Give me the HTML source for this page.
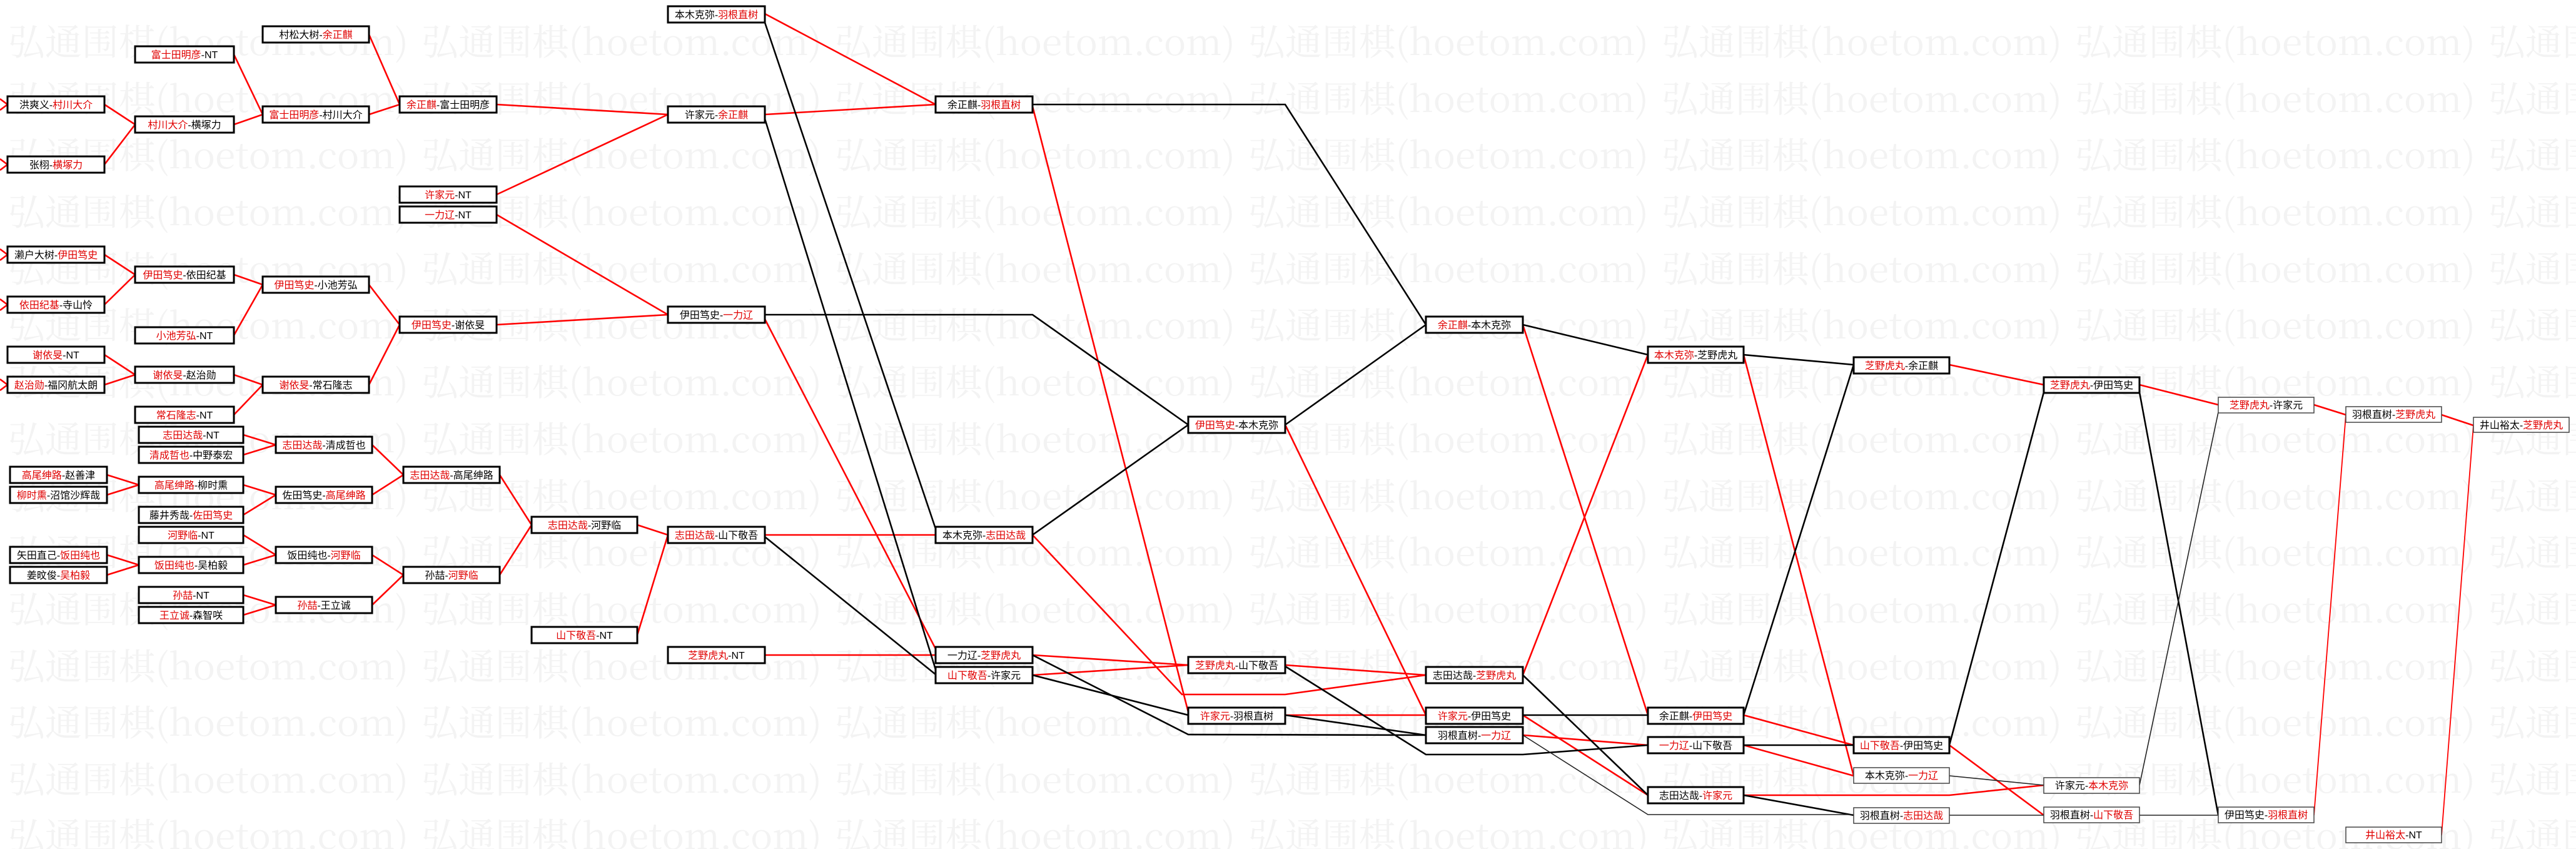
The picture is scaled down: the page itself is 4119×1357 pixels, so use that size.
<!DOCTYPE html>
<html><head><meta charset="utf-8"><style>
html,body{margin:0;padding:0;background:#fff;}
svg{display:block;}
.wm{font-family:"Noto Serif CJK SC","Liberation Serif",serif;font-size:58px;fill:#f3f3f3;}
.b{fill:#fff;stroke:#000;stroke-width:3;}
.bt{fill:#fff;stroke:#444;stroke-width:1.5;}
.t{font-family:"Liberation Sans","Noto Sans CJK SC",sans-serif;font-size:16px;fill:#000;text-anchor:middle;}
.r{fill:#e00000;}
.lr{stroke:#f00;stroke-width:2.6;fill:none;}
.lb{stroke:#000;stroke-width:2.6;fill:none;}
.lbt{stroke:#222;stroke-width:1.6;fill:none;}
.lrt{stroke:#f00;stroke-width:1.8;fill:none;}
</style></head><body>
<svg width="4119" height="1357" viewBox="0 0 4119 1357" xmlns="http://www.w3.org/2000/svg">
<g class="wm">
<text x="13" y="88" textLength="640" lengthAdjust="spacingAndGlyphs">弘通围棋(hoetom.com)</text><text x="674" y="88" textLength="640" lengthAdjust="spacingAndGlyphs">弘通围棋(hoetom.com)</text><text x="1335" y="88" textLength="640" lengthAdjust="spacingAndGlyphs">弘通围棋(hoetom.com)</text><text x="1996" y="88" textLength="640" lengthAdjust="spacingAndGlyphs">弘通围棋(hoetom.com)</text><text x="2657" y="88" textLength="640" lengthAdjust="spacingAndGlyphs">弘通围棋(hoetom.com)</text><text x="3318" y="88" textLength="640" lengthAdjust="spacingAndGlyphs">弘通围棋(hoetom.com)</text><text x="3979" y="88" textLength="640" lengthAdjust="spacingAndGlyphs">弘通围棋(hoetom.com)</text>
<text x="13" y="179" textLength="640" lengthAdjust="spacingAndGlyphs">弘通围棋(hoetom.com)</text><text x="674" y="179" textLength="640" lengthAdjust="spacingAndGlyphs">弘通围棋(hoetom.com)</text><text x="1335" y="179" textLength="640" lengthAdjust="spacingAndGlyphs">弘通围棋(hoetom.com)</text><text x="1996" y="179" textLength="640" lengthAdjust="spacingAndGlyphs">弘通围棋(hoetom.com)</text><text x="2657" y="179" textLength="640" lengthAdjust="spacingAndGlyphs">弘通围棋(hoetom.com)</text><text x="3318" y="179" textLength="640" lengthAdjust="spacingAndGlyphs">弘通围棋(hoetom.com)</text><text x="3979" y="179" textLength="640" lengthAdjust="spacingAndGlyphs">弘通围棋(hoetom.com)</text>
<text x="13" y="269" textLength="640" lengthAdjust="spacingAndGlyphs">弘通围棋(hoetom.com)</text><text x="674" y="269" textLength="640" lengthAdjust="spacingAndGlyphs">弘通围棋(hoetom.com)</text><text x="1335" y="269" textLength="640" lengthAdjust="spacingAndGlyphs">弘通围棋(hoetom.com)</text><text x="1996" y="269" textLength="640" lengthAdjust="spacingAndGlyphs">弘通围棋(hoetom.com)</text><text x="2657" y="269" textLength="640" lengthAdjust="spacingAndGlyphs">弘通围棋(hoetom.com)</text><text x="3318" y="269" textLength="640" lengthAdjust="spacingAndGlyphs">弘通围棋(hoetom.com)</text><text x="3979" y="269" textLength="640" lengthAdjust="spacingAndGlyphs">弘通围棋(hoetom.com)</text>
<text x="13" y="360" textLength="640" lengthAdjust="spacingAndGlyphs">弘通围棋(hoetom.com)</text><text x="674" y="360" textLength="640" lengthAdjust="spacingAndGlyphs">弘通围棋(hoetom.com)</text><text x="1335" y="360" textLength="640" lengthAdjust="spacingAndGlyphs">弘通围棋(hoetom.com)</text><text x="1996" y="360" textLength="640" lengthAdjust="spacingAndGlyphs">弘通围棋(hoetom.com)</text><text x="2657" y="360" textLength="640" lengthAdjust="spacingAndGlyphs">弘通围棋(hoetom.com)</text><text x="3318" y="360" textLength="640" lengthAdjust="spacingAndGlyphs">弘通围棋(hoetom.com)</text><text x="3979" y="360" textLength="640" lengthAdjust="spacingAndGlyphs">弘通围棋(hoetom.com)</text>
<text x="13" y="451" textLength="640" lengthAdjust="spacingAndGlyphs">弘通围棋(hoetom.com)</text><text x="674" y="451" textLength="640" lengthAdjust="spacingAndGlyphs">弘通围棋(hoetom.com)</text><text x="1335" y="451" textLength="640" lengthAdjust="spacingAndGlyphs">弘通围棋(hoetom.com)</text><text x="1996" y="451" textLength="640" lengthAdjust="spacingAndGlyphs">弘通围棋(hoetom.com)</text><text x="2657" y="451" textLength="640" lengthAdjust="spacingAndGlyphs">弘通围棋(hoetom.com)</text><text x="3318" y="451" textLength="640" lengthAdjust="spacingAndGlyphs">弘通围棋(hoetom.com)</text><text x="3979" y="451" textLength="640" lengthAdjust="spacingAndGlyphs">弘通围棋(hoetom.com)</text>
<text x="13" y="541" textLength="640" lengthAdjust="spacingAndGlyphs">弘通围棋(hoetom.com)</text><text x="674" y="541" textLength="640" lengthAdjust="spacingAndGlyphs">弘通围棋(hoetom.com)</text><text x="1335" y="541" textLength="640" lengthAdjust="spacingAndGlyphs">弘通围棋(hoetom.com)</text><text x="1996" y="541" textLength="640" lengthAdjust="spacingAndGlyphs">弘通围棋(hoetom.com)</text><text x="2657" y="541" textLength="640" lengthAdjust="spacingAndGlyphs">弘通围棋(hoetom.com)</text><text x="3318" y="541" textLength="640" lengthAdjust="spacingAndGlyphs">弘通围棋(hoetom.com)</text><text x="3979" y="541" textLength="640" lengthAdjust="spacingAndGlyphs">弘通围棋(hoetom.com)</text>
<text x="13" y="632" textLength="640" lengthAdjust="spacingAndGlyphs">弘通围棋(hoetom.com)</text><text x="674" y="632" textLength="640" lengthAdjust="spacingAndGlyphs">弘通围棋(hoetom.com)</text><text x="1335" y="632" textLength="640" lengthAdjust="spacingAndGlyphs">弘通围棋(hoetom.com)</text><text x="1996" y="632" textLength="640" lengthAdjust="spacingAndGlyphs">弘通围棋(hoetom.com)</text><text x="2657" y="632" textLength="640" lengthAdjust="spacingAndGlyphs">弘通围棋(hoetom.com)</text><text x="3318" y="632" textLength="640" lengthAdjust="spacingAndGlyphs">弘通围棋(hoetom.com)</text><text x="3979" y="632" textLength="640" lengthAdjust="spacingAndGlyphs">弘通围棋(hoetom.com)</text>
<text x="13" y="723" textLength="640" lengthAdjust="spacingAndGlyphs">弘通围棋(hoetom.com)</text><text x="674" y="723" textLength="640" lengthAdjust="spacingAndGlyphs">弘通围棋(hoetom.com)</text><text x="1335" y="723" textLength="640" lengthAdjust="spacingAndGlyphs">弘通围棋(hoetom.com)</text><text x="1996" y="723" textLength="640" lengthAdjust="spacingAndGlyphs">弘通围棋(hoetom.com)</text><text x="2657" y="723" textLength="640" lengthAdjust="spacingAndGlyphs">弘通围棋(hoetom.com)</text><text x="3318" y="723" textLength="640" lengthAdjust="spacingAndGlyphs">弘通围棋(hoetom.com)</text><text x="3979" y="723" textLength="640" lengthAdjust="spacingAndGlyphs">弘通围棋(hoetom.com)</text>
<text x="13" y="814" textLength="640" lengthAdjust="spacingAndGlyphs">弘通围棋(hoetom.com)</text><text x="674" y="814" textLength="640" lengthAdjust="spacingAndGlyphs">弘通围棋(hoetom.com)</text><text x="1335" y="814" textLength="640" lengthAdjust="spacingAndGlyphs">弘通围棋(hoetom.com)</text><text x="1996" y="814" textLength="640" lengthAdjust="spacingAndGlyphs">弘通围棋(hoetom.com)</text><text x="2657" y="814" textLength="640" lengthAdjust="spacingAndGlyphs">弘通围棋(hoetom.com)</text><text x="3318" y="814" textLength="640" lengthAdjust="spacingAndGlyphs">弘通围棋(hoetom.com)</text><text x="3979" y="814" textLength="640" lengthAdjust="spacingAndGlyphs">弘通围棋(hoetom.com)</text>
<text x="13" y="904" textLength="640" lengthAdjust="spacingAndGlyphs">弘通围棋(hoetom.com)</text><text x="674" y="904" textLength="640" lengthAdjust="spacingAndGlyphs">弘通围棋(hoetom.com)</text><text x="1335" y="904" textLength="640" lengthAdjust="spacingAndGlyphs">弘通围棋(hoetom.com)</text><text x="1996" y="904" textLength="640" lengthAdjust="spacingAndGlyphs">弘通围棋(hoetom.com)</text><text x="2657" y="904" textLength="640" lengthAdjust="spacingAndGlyphs">弘通围棋(hoetom.com)</text><text x="3318" y="904" textLength="640" lengthAdjust="spacingAndGlyphs">弘通围棋(hoetom.com)</text><text x="3979" y="904" textLength="640" lengthAdjust="spacingAndGlyphs">弘通围棋(hoetom.com)</text>
<text x="13" y="995" textLength="640" lengthAdjust="spacingAndGlyphs">弘通围棋(hoetom.com)</text><text x="674" y="995" textLength="640" lengthAdjust="spacingAndGlyphs">弘通围棋(hoetom.com)</text><text x="1335" y="995" textLength="640" lengthAdjust="spacingAndGlyphs">弘通围棋(hoetom.com)</text><text x="1996" y="995" textLength="640" lengthAdjust="spacingAndGlyphs">弘通围棋(hoetom.com)</text><text x="2657" y="995" textLength="640" lengthAdjust="spacingAndGlyphs">弘通围棋(hoetom.com)</text><text x="3318" y="995" textLength="640" lengthAdjust="spacingAndGlyphs">弘通围棋(hoetom.com)</text><text x="3979" y="995" textLength="640" lengthAdjust="spacingAndGlyphs">弘通围棋(hoetom.com)</text>
<text x="13" y="1086" textLength="640" lengthAdjust="spacingAndGlyphs">弘通围棋(hoetom.com)</text><text x="674" y="1086" textLength="640" lengthAdjust="spacingAndGlyphs">弘通围棋(hoetom.com)</text><text x="1335" y="1086" textLength="640" lengthAdjust="spacingAndGlyphs">弘通围棋(hoetom.com)</text><text x="1996" y="1086" textLength="640" lengthAdjust="spacingAndGlyphs">弘通围棋(hoetom.com)</text><text x="2657" y="1086" textLength="640" lengthAdjust="spacingAndGlyphs">弘通围棋(hoetom.com)</text><text x="3318" y="1086" textLength="640" lengthAdjust="spacingAndGlyphs">弘通围棋(hoetom.com)</text><text x="3979" y="1086" textLength="640" lengthAdjust="spacingAndGlyphs">弘通围棋(hoetom.com)</text>
<text x="13" y="1176" textLength="640" lengthAdjust="spacingAndGlyphs">弘通围棋(hoetom.com)</text><text x="674" y="1176" textLength="640" lengthAdjust="spacingAndGlyphs">弘通围棋(hoetom.com)</text><text x="1335" y="1176" textLength="640" lengthAdjust="spacingAndGlyphs">弘通围棋(hoetom.com)</text><text x="1996" y="1176" textLength="640" lengthAdjust="spacingAndGlyphs">弘通围棋(hoetom.com)</text><text x="2657" y="1176" textLength="640" lengthAdjust="spacingAndGlyphs">弘通围棋(hoetom.com)</text><text x="3318" y="1176" textLength="640" lengthAdjust="spacingAndGlyphs">弘通围棋(hoetom.com)</text><text x="3979" y="1176" textLength="640" lengthAdjust="spacingAndGlyphs">弘通围棋(hoetom.com)</text>
<text x="13" y="1267" textLength="640" lengthAdjust="spacingAndGlyphs">弘通围棋(hoetom.com)</text><text x="674" y="1267" textLength="640" lengthAdjust="spacingAndGlyphs">弘通围棋(hoetom.com)</text><text x="1335" y="1267" textLength="640" lengthAdjust="spacingAndGlyphs">弘通围棋(hoetom.com)</text><text x="1996" y="1267" textLength="640" lengthAdjust="spacingAndGlyphs">弘通围棋(hoetom.com)</text><text x="2657" y="1267" textLength="640" lengthAdjust="spacingAndGlyphs">弘通围棋(hoetom.com)</text><text x="3318" y="1267" textLength="640" lengthAdjust="spacingAndGlyphs">弘通围棋(hoetom.com)</text><text x="3979" y="1267" textLength="640" lengthAdjust="spacingAndGlyphs">弘通围棋(hoetom.com)</text>
<text x="13" y="1357" textLength="640" lengthAdjust="spacingAndGlyphs">弘通围棋(hoetom.com)</text><text x="674" y="1357" textLength="640" lengthAdjust="spacingAndGlyphs">弘通围棋(hoetom.com)</text><text x="1335" y="1357" textLength="640" lengthAdjust="spacingAndGlyphs">弘通围棋(hoetom.com)</text><text x="1996" y="1357" textLength="640" lengthAdjust="spacingAndGlyphs">弘通围棋(hoetom.com)</text><text x="2657" y="1357" textLength="640" lengthAdjust="spacingAndGlyphs">弘通围棋(hoetom.com)</text><text x="3318" y="1357" textLength="640" lengthAdjust="spacingAndGlyphs">弘通围棋(hoetom.com)</text><text x="3979" y="1357" textLength="640" lengthAdjust="spacingAndGlyphs">弘通围棋(hoetom.com)</text>
</g>

<g class="lr">
<polyline points="0,158 12,167 0,176"/><polyline points="0,254 12,263 0,272"/><polyline points="0,398 12,407 0,416"/><polyline points="0,478 12,487 0,496"/><polyline points="0,606 12,615 0,624"/>
<line x1="167" y1="167" x2="216" y2="199"/><line x1="167" y1="263" x2="216" y2="199"/>
<line x1="374" y1="87" x2="420" y2="183"/><line x1="374" y1="199" x2="420" y2="183"/>
<line x1="590" y1="55" x2="639" y2="167"/><line x1="590" y1="183" x2="639" y2="167"/>
<line x1="794" y1="167" x2="1068" y2="183"/><line x1="794" y1="311" x2="1068" y2="183"/>
<line x1="794" y1="343" x2="1068" y2="503"/><line x1="794" y1="519" x2="1068" y2="503"/>
<line x1="167" y1="407" x2="216" y2="439"/><line x1="167" y1="487" x2="216" y2="439"/>
<line x1="374" y1="439" x2="420" y2="455"/><line x1="374" y1="536" x2="420" y2="455"/>
<line x1="590" y1="455" x2="639" y2="519"/><line x1="590" y1="615" x2="639" y2="519"/>
<line x1="167" y1="567" x2="216" y2="599"/><line x1="167" y1="615" x2="216" y2="599"/>
<line x1="374" y1="599" x2="420" y2="615"/><line x1="374" y1="663" x2="420" y2="615"/>
<line x1="389" y1="695" x2="441" y2="711"/><line x1="389" y1="727" x2="441" y2="711"/>
<line x1="171" y1="759" x2="222" y2="775"/><line x1="171" y1="791" x2="222" y2="775"/>
<line x1="389" y1="775" x2="441" y2="791"/><line x1="389" y1="823" x2="441" y2="791"/>
<line x1="595" y1="711" x2="645" y2="759"/><line x1="595" y1="791" x2="645" y2="759"/>
<line x1="799" y1="759" x2="850" y2="839"/><line x1="799" y1="919" x2="850" y2="839"/>
<line x1="389" y1="855" x2="441" y2="887"/><line x1="389" y1="903" x2="441" y2="887"/>
<line x1="171" y1="887" x2="222" y2="903"/><line x1="171" y1="919" x2="222" y2="903"/>
<line x1="595" y1="887" x2="645" y2="919"/><line x1="595" y1="967" x2="645" y2="919"/>
<line x1="389" y1="951" x2="441" y2="967"/><line x1="389" y1="983" x2="441" y2="967"/>
<line x1="1019" y1="839" x2="1068" y2="855"/><line x1="1019" y1="1015" x2="1068" y2="855"/>
<line x1="1223" y1="22" x2="1496" y2="167"/><line x1="1223" y1="183" x2="1496" y2="167"/>
<line x1="1223" y1="510" x2="1496" y2="1037"/>
<line x1="1651" y1="170" x2="1900" y2="1138"/>
<line x1="1223" y1="855" x2="1496" y2="855"/>
<line x1="1223" y1="1047" x2="1496" y2="1047"/>
<line x1="1651" y1="1047" x2="1900" y2="1063"/><line x1="1651" y1="1079" x2="1900" y2="1063"/>
<polyline points="1651,855 1890,1110 2055,1110 2280,1079"/>
<line x1="2055" y1="679" x2="2280" y2="1143"/>
<line x1="2055" y1="1063" x2="2280" y2="1079"/>
<line x1="2055" y1="1143" x2="2280" y2="1143"/>
<line x1="2435" y1="519" x2="2635" y2="1143"/>
<line x1="2435" y1="1079" x2="2635" y2="567"/>
<line x1="2435" y1="1143" x2="2635" y2="1271"/>
<line x1="2435" y1="1175" x2="2635" y2="1191"/>
<line x1="2788" y1="567" x2="2964" y2="1240"/>
<line x1="2788" y1="1143" x2="2964" y2="1191"/>
<line x1="2788" y1="1191" x2="2964" y2="1240"/>
<polyline points="2788,1271 3117,1271 3268,1255"/>
<line x1="3117" y1="583" x2="3268" y2="615"/>
<line x1="3117" y1="1191" x2="3268" y2="1303"/>
<line x1="3421" y1="615" x2="3547" y2="647"/>
<line x1="3700" y1="647" x2="3751" y2="663"/>
<line x1="3904" y1="663" x2="3955" y2="680"/>
</g>
<g class="lrt">
<line x1="3700" y1="1303" x2="3751" y2="663"/>
<line x1="3904" y1="1335" x2="3955" y2="680"/>
</g>
<g class="lb">
<polyline points="1651,167 2055,167 2280,519"/>
<line x1="1223" y1="36" x2="1496" y2="845"/>
<line x1="1223" y1="190" x2="1496" y2="1070"/>
<polyline points="1223,503 1651,503 1900,679"/>
<line x1="1223" y1="858" x2="1496" y2="1078"/>
<polyline points="1651,1047 1900,1174 2280,1175"/>
<line x1="1651" y1="1079" x2="1900" y2="1143"/>
<line x1="1651" y1="855" x2="1900" y2="679"/>
<line x1="2055" y1="679" x2="2280" y2="519"/>
<polyline points="2055,1065 2280,1206 2435,1206 2635,1191"/>
<line x1="2055" y1="1143" x2="2280" y2="1175"/>
<line x1="2435" y1="519" x2="2635" y2="567"/>
<line x1="2435" y1="1079" x2="2635" y2="1271"/>
<line x1="2435" y1="1143" x2="2635" y2="1143"/>
<line x1="2788" y1="567" x2="2964" y2="583"/>
<line x1="2788" y1="1143" x2="2964" y2="583"/>
<line x1="2788" y1="1191" x2="2964" y2="1191"/>
<line x1="2788" y1="1271" x2="2964" y2="1303"/>
<line x1="3117" y1="1191" x2="3268" y2="627"/>
<line x1="3421" y1="627" x2="3547" y2="1303"/>
</g>
<g class="lbt">
<polyline points="2435,1175 2635,1302 2964,1302"/>
<line x1="3117" y1="1240" x2="3268" y2="1255"/>
<line x1="3117" y1="1303" x2="3268" y2="1303"/>
<line x1="3421" y1="1255" x2="3547" y2="659"/>
<line x1="3421" y1="1303" x2="3547" y2="1303"/>
</g>

<g>
<rect class="b" x="12" y="154" width="155" height="26"/><text class="t" x="89.5" y="173">洪爽义-<tspan class="r">村川大介</tspan></text>
<rect class="b" x="12" y="250" width="155" height="26"/><text class="t" x="89.5" y="269">张栩-<tspan class="r">横塚力</tspan></text>
<rect class="b" x="12" y="394" width="155" height="26"/><text class="t" x="89.5" y="413">濑户大树-<tspan class="r">伊田笃史</tspan></text>
<rect class="b" x="12" y="474" width="155" height="26"/><text class="t" x="89.5" y="493"><tspan class="r">依田纪基</tspan>-寺山怜</text>
<rect class="b" x="12" y="554" width="155" height="26"/><text class="t" x="89.5" y="573"><tspan class="r">谢依旻</tspan>-NT</text>
<rect class="b" x="12" y="602" width="155" height="26"/><text class="t" x="89.5" y="621"><tspan class="r">赵治勋</tspan>-福冈航太朗</text>

<rect class="b" x="16" y="746" width="155" height="26"/><text class="t" x="93.5" y="765"><tspan class="r">高尾绅路</tspan>-赵善津</text>
<rect class="b" x="16" y="778" width="155" height="26"/><text class="t" x="93.5" y="797"><tspan class="r">柳时熏</tspan>-沼馆沙辉哉</text>
<rect class="b" x="16" y="874" width="155" height="26"/><text class="t" x="93.5" y="893">矢田直己-<tspan class="r">饭田纯也</tspan></text>
<rect class="b" x="16" y="906" width="155" height="26"/><text class="t" x="93.5" y="925">姜旼俊-<tspan class="r">吴柏毅</tspan></text>

<rect class="b" x="216" y="74" width="158" height="26"/><text class="t" x="295" y="93"><tspan class="r">富士田明彦</tspan>-NT</text>
<rect class="b" x="216" y="186" width="158" height="26"/><text class="t" x="295" y="205"><tspan class="r">村川大介</tspan>-横塚力</text>
<rect class="b" x="216" y="426" width="158" height="26"/><text class="t" x="295" y="445"><tspan class="r">伊田笃史</tspan>-依田纪基</text>
<rect class="b" x="216" y="523" width="158" height="26"/><text class="t" x="295" y="542"><tspan class="r">小池芳弘</tspan>-NT</text>
<rect class="b" x="216" y="586" width="158" height="26"/><text class="t" x="295" y="605"><tspan class="r">谢依旻</tspan>-赵治勋</text>
<rect class="b" x="216" y="650" width="158" height="26"/><text class="t" x="295" y="669"><tspan class="r">常石隆志</tspan>-NT</text>

<rect class="b" x="222" y="682" width="167" height="26"/><text class="t" x="305.5" y="701"><tspan class="r">志田达哉</tspan>-NT</text>
<rect class="b" x="222" y="714" width="167" height="26"/><text class="t" x="305.5" y="733"><tspan class="r">清成哲也</tspan>-中野泰宏</text>
<rect class="b" x="222" y="762" width="167" height="26"/><text class="t" x="305.5" y="781"><tspan class="r">高尾绅路</tspan>-柳时熏</text>
<rect class="b" x="222" y="810" width="167" height="26"/><text class="t" x="305.5" y="829">藤井秀哉-<tspan class="r">佐田笃史</tspan></text>
<rect class="b" x="222" y="842" width="167" height="26"/><text class="t" x="305.5" y="861"><tspan class="r">河野临</tspan>-NT</text>
<rect class="b" x="222" y="890" width="167" height="26"/><text class="t" x="305.5" y="909"><tspan class="r">饭田纯也</tspan>-吴柏毅</text>
<rect class="b" x="222" y="938" width="167" height="26"/><text class="t" x="305.5" y="957"><tspan class="r">孙喆</tspan>-NT</text>
<rect class="b" x="222" y="970" width="167" height="26"/><text class="t" x="305.5" y="989"><tspan class="r">王立诚</tspan>-森智咲</text>

<rect class="b" x="420" y="42" width="170" height="26"/><text class="t" x="505" y="61">村松大树-<tspan class="r">余正麒</tspan></text>
<rect class="b" x="420" y="170" width="170" height="26"/><text class="t" x="505" y="189"><tspan class="r">富士田明彦</tspan>-村川大介</text>
<rect class="b" x="420" y="442" width="170" height="26"/><text class="t" x="505" y="461"><tspan class="r">伊田笃史</tspan>-小池芳弘</text>
<rect class="b" x="420" y="602" width="170" height="26"/><text class="t" x="505" y="621"><tspan class="r">谢依旻</tspan>-常石隆志</text>

<rect class="b" x="441" y="698" width="154" height="26"/><text class="t" x="518" y="717"><tspan class="r">志田达哉</tspan>-清成哲也</text>
<rect class="b" x="441" y="778" width="154" height="26"/><text class="t" x="518" y="797">佐田笃史-<tspan class="r">高尾绅路</tspan></text>
<rect class="b" x="441" y="874" width="154" height="26"/><text class="t" x="518" y="893">饭田纯也-<tspan class="r">河野临</tspan></text>
<rect class="b" x="441" y="954" width="154" height="26"/><text class="t" x="518" y="973"><tspan class="r">孙喆</tspan>-王立诚</text>

<rect class="b" x="639" y="154" width="155" height="26"/><text class="t" x="716.5" y="173"><tspan class="r">余正麒</tspan>-富士田明彦</text>
<rect class="b" x="639" y="298" width="155" height="26"/><text class="t" x="716.5" y="317"><tspan class="r">许家元</tspan>-NT</text>
<rect class="b" x="639" y="330" width="155" height="26"/><text class="t" x="716.5" y="349"><tspan class="r">一力辽</tspan>-NT</text>
<rect class="b" x="639" y="506" width="155" height="26"/><text class="t" x="716.5" y="525"><tspan class="r">伊田笃史</tspan>-谢依旻</text>

<rect class="b" x="645" y="746" width="154" height="26"/><text class="t" x="722" y="765"><tspan class="r">志田达哉</tspan>-高尾绅路</text>
<rect class="b" x="645" y="906" width="154" height="26"/><text class="t" x="722" y="925">孙喆-<tspan class="r">河野临</tspan></text>

<rect class="b" x="850" y="826" width="169" height="26"/><text class="t" x="934.5" y="845"><tspan class="r">志田达哉</tspan>-河野临</text>
<rect class="b" x="850" y="1002" width="169" height="26"/><text class="t" x="934.5" y="1021"><tspan class="r">山下敬吾</tspan>-NT</text>

<rect class="b" x="1068" y="10" width="155" height="26"/><text class="t" x="1145.5" y="29">本木克弥-<tspan class="r">羽根直树</tspan></text>
<rect class="b" x="1068" y="170" width="155" height="26"/><text class="t" x="1145.5" y="189">许家元-<tspan class="r">余正麒</tspan></text>
<rect class="b" x="1068" y="490" width="155" height="26"/><text class="t" x="1145.5" y="509">伊田笃史-<tspan class="r">一力辽</tspan></text>
<rect class="b" x="1068" y="842" width="155" height="26"/><text class="t" x="1145.5" y="861"><tspan class="r">志田达哉</tspan>-山下敬吾</text>
<rect class="b" x="1068" y="1034" width="155" height="26"/><text class="t" x="1145.5" y="1053"><tspan class="r">芝野虎丸</tspan>-NT</text>

<rect class="b" x="1496" y="154" width="155" height="26"/><text class="t" x="1573.5" y="173">余正麒-<tspan class="r">羽根直树</tspan></text>
<rect class="b" x="1496" y="842" width="155" height="26"/><text class="t" x="1573.5" y="861">本木克弥-<tspan class="r">志田达哉</tspan></text>
<rect class="b" x="1496" y="1034" width="155" height="26"/><text class="t" x="1573.5" y="1053">一力辽-<tspan class="r">芝野虎丸</tspan></text>
<rect class="b" x="1496" y="1066" width="155" height="26"/><text class="t" x="1573.5" y="1085"><tspan class="r">山下敬吾</tspan>-许家元</text>

<rect class="b" x="1900" y="666" width="155" height="26"/><text class="t" x="1977.5" y="685"><tspan class="r">伊田笃史</tspan>-本木克弥</text>
<rect class="b" x="1900" y="1050" width="155" height="26"/><text class="t" x="1977.5" y="1069"><tspan class="r">芝野虎丸</tspan>-山下敬吾</text>
<rect class="b" x="1900" y="1131" width="155" height="26"/><text class="t" x="1977.5" y="1150"><tspan class="r">许家元</tspan>-羽根直树</text>

<rect class="b" x="2280" y="506" width="155" height="26"/><text class="t" x="2357.5" y="525"><tspan class="r">余正麒</tspan>-本木克弥</text>
<rect class="b" x="2280" y="1066" width="155" height="26"/><text class="t" x="2357.5" y="1085">志田达哉-<tspan class="r">芝野虎丸</tspan></text>
<rect class="b" x="2280" y="1131" width="155" height="26"/><text class="t" x="2357.5" y="1150"><tspan class="r">许家元</tspan>-伊田笃史</text>
<rect class="b" x="2280" y="1162" width="155" height="26"/><text class="t" x="2357.5" y="1181">羽根直树-<tspan class="r">一力辽</tspan></text>

<rect class="b" x="2635" y="554" width="153" height="26"/><text class="t" x="2711.5" y="573"><tspan class="r">本木克弥</tspan>-芝野虎丸</text>
<rect class="b" x="2635" y="1131" width="153" height="26"/><text class="t" x="2711.5" y="1150">余正麒-<tspan class="r">伊田笃史</tspan></text>
<rect class="b" x="2635" y="1178" width="153" height="26"/><text class="t" x="2711.5" y="1197"><tspan class="r">一力辽</tspan>-山下敬吾</text>
<rect class="b" x="2635" y="1258" width="153" height="26"/><text class="t" x="2711.5" y="1277">志田达哉-<tspan class="r">许家元</tspan></text>

<rect class="b" x="2964" y="571" width="153" height="26"/><text class="t" x="3040.5" y="590"><tspan class="r">芝野虎丸</tspan>-余正麒</text>
<rect class="b" x="2964" y="1178" width="153" height="26"/><text class="t" x="3040.5" y="1197"><tspan class="r">山下敬吾</tspan>-伊田笃史</text>
<rect class="bt" x="2964" y="1227" width="153" height="25"/><text class="t" x="3040.5" y="1245">本木克弥-<tspan class="r">一力辽</tspan></text>
<rect class="bt" x="2964" y="1291" width="153" height="25"/><text class="t" x="3040.5" y="1309">羽根直树-<tspan class="r">志田达哉</tspan></text>

<rect class="b" x="3268" y="603" width="153" height="25"/><text class="t" x="3344.5" y="621"><tspan class="r">芝野虎丸</tspan>-伊田笃史</text>
<rect class="bt" x="3268" y="1243" width="153" height="25"/><text class="t" x="3344.5" y="1261">许家元-<tspan class="r">本木克弥</tspan></text>
<rect class="bt" x="3268" y="1290" width="153" height="25"/><text class="t" x="3344.5" y="1308">羽根直树-<tspan class="r">山下敬吾</tspan></text>

<rect class="bt" x="3547" y="635" width="153" height="25"/><text class="t" x="3623.5" y="653"><tspan class="r">芝野虎丸</tspan>-许家元</text>
<rect class="bt" x="3547" y="1290" width="153" height="25"/><text class="t" x="3623.5" y="1308">伊田笃史-<tspan class="r">羽根直树</tspan></text>

<rect class="bt" x="3751" y="650" width="153" height="25"/><text class="t" x="3827.5" y="668">羽根直树-<tspan class="r">芝野虎丸</tspan></text>
<rect class="bt" x="3751" y="1322" width="153" height="25"/><text class="t" x="3827.5" y="1340"><tspan class="r">井山裕太</tspan>-NT</text>

<rect class="bt" x="3955" y="667" width="153" height="24"/><text class="t" x="4031.5" y="685">井山裕太-<tspan class="r">芝野虎丸</tspan></text>
</g>
</svg>
</body></html>
